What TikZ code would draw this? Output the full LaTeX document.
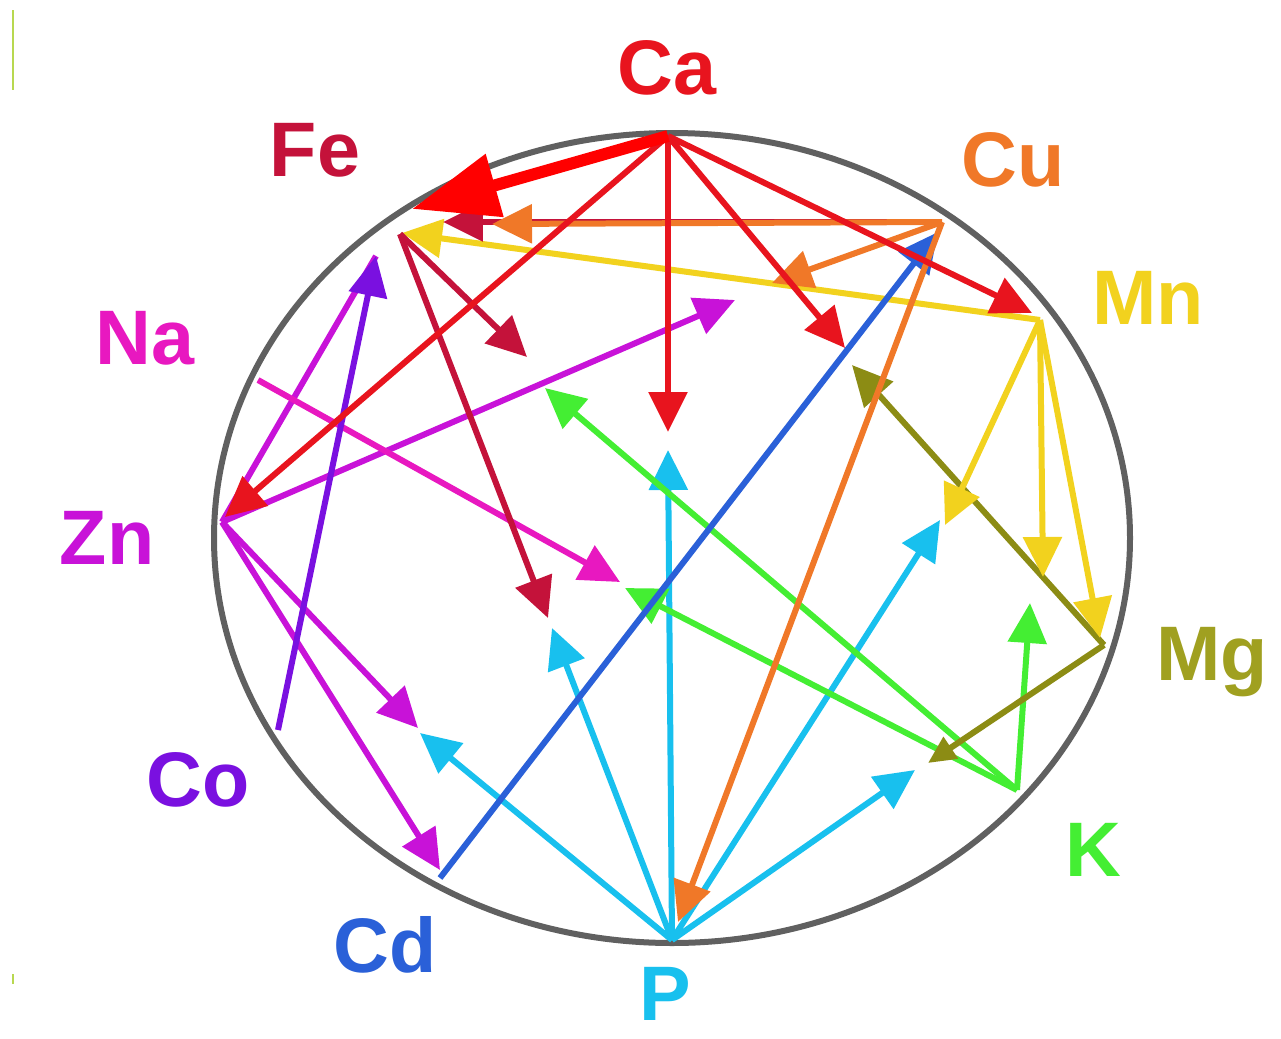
\documentclass[tikz,border=0pt]{standalone}
\usepackage{fontspec}
\setmainfont{Liberation Sans}
\usetikzlibrary{arrows.meta}
\definecolor{cCa}{HTML}{E8141E}
\definecolor{cFe}{HTML}{C4123A}
\definecolor{cCu}{HTML}{F07828}
\definecolor{cMn}{HTML}{F2D21E}
\definecolor{cMg}{HTML}{8C8C14}
\definecolor{cMgT}{HTML}{A0A020}
\definecolor{cK}{HTML}{44EE33}
\definecolor{cP}{HTML}{18C0EE}
\definecolor{cCd}{HTML}{2A60D8}
\definecolor{cCo}{HTML}{7A10E0}
\definecolor{cZn}{HTML}{C812D8}
\definecolor{cNa}{HTML}{E818C0}
\definecolor{cRing}{HTML}{606060}
\definecolor{cMark}{HTML}{B8D850}
\tikzset{
  ln/.style={line width=0.12cm, -{Triangle[length=0.8cm,width=0.76cm]}},
  plain/.style={line width=0.12cm},
  lab/.style={font=\fontsize{44}{44}\selectfont\bfseries, inner sep=0pt},
  big/.style={line width=0.24cm, color=red, -{Triangle[length=1.72cm,width=1.25cm]}},
}
\begin{document}
\begin{tikzpicture}[x=0.02cm,y=-0.02cm]
\useasboundingbox (0,0) rectangle (1281,1038);
\fill[white] (0,0) rectangle (1281,1038);
% edge marks
\draw[cMark, line width=0.06cm] (13,10) -- (13,90);
\draw[cMark, line width=0.06cm] (13,974) -- (13,984);
% ring
\draw[cRing, line width=0.12cm] (672,538) ellipse [x radius=458, y radius=405];
% element points
\coordinate (Ca) at (668,136);
\coordinate (Fe) at (400,234);
\coordinate (FeP) at (376,256);
\coordinate (Cu) at (942,222);
\coordinate (Mn) at (1040,320);
\coordinate (Mg) at (1104,645);
\coordinate (K) at (1017,790);
\coordinate (P) at (672,940);
\coordinate (Cd) at (440,878);
\coordinate (Co) at (278,730);
\coordinate (Zn) at (222,522);
\coordinate (Na) at (258,380);
% arrival points
\coordinate (MnIn) at (1032,313);
\coordinate (ZnIn) at (225,517);
\coordinate (FeY) at (402,233);
\coordinate (MgIn) at (1100,638);
\coordinate (CdIn) at (440,870);
\coordinate (PIn) at (678,922);
\coordinate (CuIn) at (938,232);
\coordinate (FeBig) at (412,209);
% free ends
\coordinate (t1) at (668,432);
\coordinate (t2) at (845,348);
\coordinate (t3) at (772,283);
\coordinate (t4) at (492,224);
\coordinate (t5) at (443,222);
\coordinate (t6) at (945,525);
\coordinate (t7) at (1043,577);
\coordinate (t8) at (852,365);
\coordinate (t9) at (928,763);
\coordinate (t10) at (545,388);
\coordinate (t11) at (625,588);
\coordinate (t12) at (1030,603);
\coordinate (t13) at (620,582);
\coordinate (t14) at (735,300);
\coordinate (t15) at (418,728);
\coordinate (t16) at (527,357);
\coordinate (t17) at (548,618);
\coordinate (t18) at (668,450);
\coordinate (t19) at (552,628);
\coordinate (t20) at (420,733);
\coordinate (t21) at (940,520);
\coordinate (t22) at (915,770);
% P (cyan)
\draw[ln, cP] (P) -- (t18);
\draw[ln, cP] (P) -- (t19);
\draw[ln, cP] (P) -- (t20);
\draw[ln, cP] (P) -- (t21);
\draw[ln, cP] (P) -- (t22);
% K (green)
\draw[ln, cK] (K) -- (t10);
\draw[ln, cK] (K) -- (t11);
\draw[ln, cK] (K) -- (t12);
% Mg (olive)
\draw[ln, cMg] (Mg) -- (t8);
\draw[plain, cMg, -{Triangle[length=0.55cm,width=0.5cm]}] (Mg) -- (t9);
% Mn (yellow)
\draw[ln, cMn] (Mn) -- (FeY);
\draw[ln, cMn] (Mn) -- (t6);
\draw[ln, cMn] (Mn) -- (t7);
\draw[ln, cMn] (Mn) -- (MgIn);
% Cd (blue)
\draw[ln, cCd] (Cd) -- (CuIn);
% Cu (orange) and crimson head
\draw[ln, cFe] (Cu) -- (t5);
\draw[ln, cCu] (Cu) -- (t4);
\draw[ln, cCu] (Cu) -- (t3);
\draw[ln, cCu] (Cu) -- (PIn);
% Zn (magenta)
\draw[plain, cZn] (Zn) -- (FeP);
\draw[ln, cZn] (Zn) -- (t14);
\draw[ln, cZn] (Zn) -- (t15);
\draw[ln, cZn] (Zn) -- (CdIn);
% Na
\draw[ln, cNa] (Na) -- (t13);
% Co (purple)
\draw[ln, cCo] (Co) -- (FeP);
% Fe (crimson)
\draw[ln, cFe] (Fe) -- (t16);
\draw[ln, cFe] (Fe) -- (t17);
% Ca (red)
\draw[ln, cCa] (Ca) -- (t1);
\draw[ln, cCa] (Ca) -- (t2);
\draw[ln, cCa] (Ca) -- (MnIn);
\draw[ln, cCa] (Ca) -- (ZnIn);
% big red arrow
\draw[big] (Ca) -- (FeBig);
% labels
\node[lab, text=cCa] (lCa) at (667,68) {Ca};
\node[lab, text=cFe] (lFe) at (315,150) {Fe};
\node[lab, text=cCu] (lCu) at (1013,160) {Cu};
\node[lab, text=cMn] (lMn) at (1148,298) {Mn};
\node[lab, text=cNa] (lNa) at (145,338) {Na};
\node[lab, text=cZn] (lZn) at (107,538) {Zn};
\node[lab, text=cMgT] (lMg) at (1212,662) {Mg};
\node[lab, text=cCo] (lCo) at (198,780) {Co};
\node[lab, text=cK] (lK) at (1093,850) {K};
\node[lab, text=cCd] (lCd) at (385,945) {Cd};
\node[lab, text=cP, anchor=base] (lP) at (665,1020) {P};
\end{tikzpicture}
\end{document}
